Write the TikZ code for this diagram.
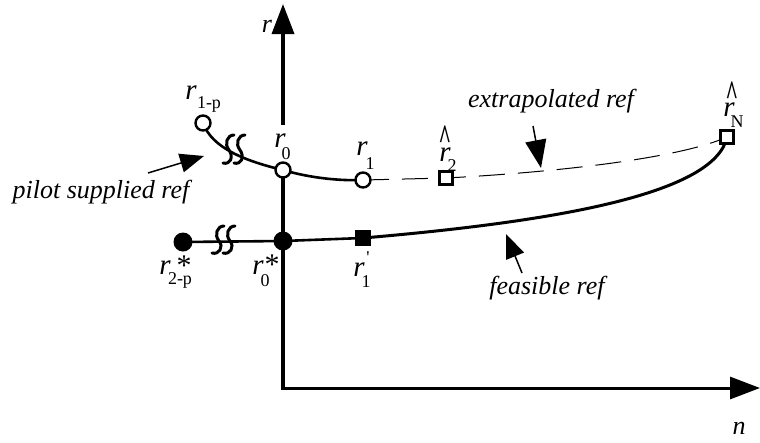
\documentclass[tikz,border=0pt]{standalone}
\usepackage{fontspec}
\setmainfont{Liberation Serif}
\usetikzlibrary{arrows.meta}
\tikzset{
  opencirc/.style={circle,draw,line width=2.4pt,fill=white,minimum size=15pt,inner sep=0pt},
  filledcirc/.style={circle,fill=black,minimum size=19pt,inner sep=0pt},
  opensq/.style={rectangle,draw,line width=2.4pt,fill=white,minimum size=13pt,inner sep=0pt},
  filledsq/.style={rectangle,fill=black,minimum size=16pt,inner sep=0pt},
  lbl/.style={inner sep=0pt,font=\fontsize{26}{30}\selectfont\itshape},
  rlbl/.style={inner sep=0pt,font=\fontsize{29}{30}\selectfont\itshape},
  sub/.style={inner sep=0pt,font=\fontsize{18}{20}\selectfont},
  hatlbl/.style={inner sep=0pt,font=\fontsize{24}{24}\selectfont\bfseries},
  starlbl/.style={inner sep=0pt,font=\fontsize{30}{30}\selectfont},
  axisline/.style={line width=3.5pt,-{Triangle[length=30pt,width=22pt]}},
  pointer/.style={line width=1.5pt,-{Triangle[length=24pt,width=19pt]}},
  curve/.style={line width=2.6pt},
  squig/.style={line width=3pt,line cap=round}
}
\newcommand{\bighat}{\scalebox{0.9}[1.5]{\textasciicircum}}
\begin{document}
\begin{tikzpicture}[x=1pt,y=-1pt]
\useasboundingbox (0,0) rectangle (760,442);
% axes
\coordinate (origin) at (283,388);
\coordinate (ytip) at (283,4);
\coordinate (xtip) at (760,388);
\draw[axisline] (origin) -- (ytip);
\draw[axisline,line width=3pt] ([xshift=-1.75pt]origin) -- (xtip);
\node[lbl] (rax) at (267,26) {r};
\node[lbl] (nax) at (739,428) {n};
% nodes positions
\coordinate (r1pc) at (203,123);
\coordinate (r0c) at (283,170);
\coordinate (r1c) at (363,180);
\coordinate (r2c) at (446,178);
\coordinate (rNc) at (727,137);
\coordinate (r2pc) at (183,242);
\coordinate (rs0c) at (283,241);
\coordinate (rp1c) at (363,238);
% gap in the vertical axis behind r_0
\fill[white] (272,125) rectangle (294,162);
% curves
\draw[curve] (r1pc) .. controls (212,148) and (245,161) .. (r0c);
\draw[curve] (r0c) .. controls (310,178) and (340,181) .. (r1c);
\draw[line width=1pt,dash pattern=on 26pt off 13pt] (r1c) -- (r2c);
\draw[line width=1pt,dash pattern=on 26pt off 13pt,dash phase=6pt] (r2c) .. controls (560,172) and (680,158) .. (rNc);
\draw[curve] (r2pc) -- (rs0c) -- (rp1c);
\draw[line width=3pt] (rp1c) .. controls (550,222) and (715,195) .. (rNc);
% squiggles (breaks)
\foreach \dx in {0,11} {
  \draw[squig] ([xshift=\dx pt]212,253) .. controls ([xshift=\dx pt]219,255) and ([xshift=\dx pt]224,247) .. ([xshift=\dx pt]219,241) .. controls ([xshift=\dx pt]214,235) and ([xshift=\dx pt]217,226) .. ([xshift=\dx pt]224,226);
  \draw[squig] ([xshift=\dx pt]223,163) .. controls ([xshift=\dx pt]230,165) and ([xshift=\dx pt]234,157) .. ([xshift=\dx pt]229,150) .. controls ([xshift=\dx pt]224,144) and ([xshift=\dx pt]227,135) .. ([xshift=\dx pt]234,135);
}
% markers
\node[opencirc] (r1p) at (r1pc) {};
\node[opencirc] (r0) at (r0c) {};
\node[opencirc] (r1) at (r1c) {};
\node[opensq] (r2) at (r2c) {};
\node[opensq] (rN) at (rNc) {};
\node[filledcirc] (r2p) at (r2pc) {};
\node[filledcirc] (rs0) at (rs0c) {};
\node[filledsq] (rp1) at (rp1c) {};
% labels
\node[rlbl] (l1p) at (191,93) {r};
\node[sub] (l1ps) at (209,104) {1-p};
\node[rlbl] (l0) at (280,141) {r};
\node[sub] (l0s) at (286,154) {0};
\node[rlbl] (l1) at (362,149) {r};
\node[sub] (l1s) at (370,164) {1};
\node[rlbl] (l2) at (445,155) {r};
\node[hatlbl] (l2h) at (445,138) {\bighat};
\node[sub] (l2s) at (452,166) {2};
\node[rlbl] (lN) at (729,110) {r};
\node[hatlbl] (lNh) at (732,94) {\bighat};
\node[sub] (lNs) at (737,122) {N};
\node[rlbl] (l2p) at (165,268) {r};
\node[starlbl] (l2pst) at (184,266) {*};
\node[sub] (l2ps) at (180,280) {2-p};
\node[rlbl] (ls0) at (258,268) {r};
\node[starlbl] (ls0st) at (272,265) {*};
\node[sub] (ls0s) at (265,281) {0};
\node[rlbl] (lp1) at (359,270) {r};
\node[sub] (lp1p) at (368,258) {\textquotesingle};
\node[sub] (lp1s) at (366,282) {1};
% annotations
\node[lbl] (pilot) at (101,192) {pilot supplied ref};
\node[lbl] (extra) at (551,101) {extrapolated ref};
\node[lbl] (feas) at (547,288) {feasible ref};
\coordinate (pt1) at (148,173);
\coordinate (ph1) at (204,156);
\draw[pointer] (pt1) -- (ph1);
\coordinate (pt2) at (533,126);
\coordinate (ph2) at (541,168);
\draw[pointer,-{Triangle[length=28pt,width=21pt]}] (pt2) -- (ph2);
\coordinate (pt3) at (522,273);
\coordinate (ph3) at (506,234);
\draw[pointer] (pt3) -- (ph3);
\end{tikzpicture}
\end{document}
